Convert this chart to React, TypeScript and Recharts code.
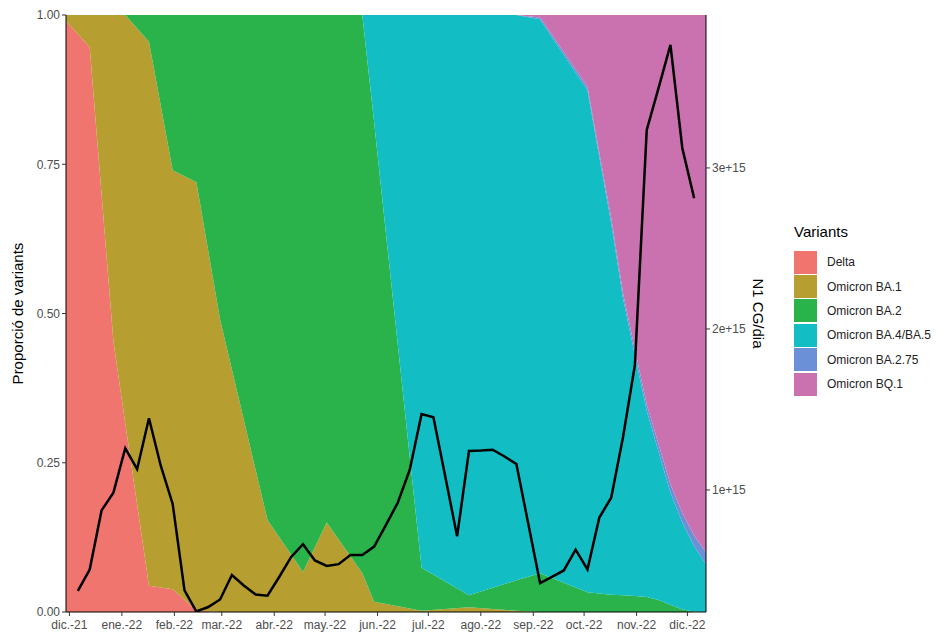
import { ComposedChart, Area, Line, XAxis, YAxis } from 'recharts';

const BASE = Date.parse('2021-12-01');
const dayOf = (iso: string) => (Date.parse(iso) - BASE) / 86400000;

// dates where the variant proportions change slope
const AREA_DATES = [
  '2021-11-29', '2021-12-13', '2021-12-27', '2022-01-03', '2022-01-17', '2022-01-31', '2022-02-14',
  '2022-02-28', '2022-03-28', '2022-04-18', '2022-05-02', '2022-05-23', '2022-05-30', '2022-06-27',
  '2022-07-25', '2022-08-22', '2022-09-05', '2022-10-03', '2022-10-10', '2022-10-17', '2022-10-24',
  '2022-10-31', '2022-11-07', '2022-11-14', '2022-11-21', '2022-11-28', '2022-12-05', '2022-12-12',
];
const DELTA = [0.99, 0.946, 0.453, 0.316, 0.044, 0.038, 0.003, 0, 0, 0, 0, 0, 0, 0, 0, 0, 0, 0, 0, 0, 0, 0, 0, 0, 0, 0, 0, 0];
const BA1 = [0.01, 0.054, 0.547, 0.684, 0.911, 0.702, 0.717, 0.49, 0.154, 0.067, 0.15, 0.065, 0.017, 0.002, 0.008, 0.002, 0, 0, 0, 0, 0, 0, 0, 0, 0, 0, 0, 0];
const BA2 = [0, 0, 0, 0, 0.045, 0.26, 0.28, 0.51, 0.846, 0.933, 0.85, 0.935, 0.803, 0.072, 0.02, 0.051, 0.065, 0.033, 0.031, 0.029, 0.028, 0.027, 0.025, 0.02, 0.012, 0.004, 0.001, 0];
const BA45 = [0, 0, 0, 0, 0, 0, 0, 0, 0, 0, 0, 0, 0.18, 0.926, 0.972, 0.947, 0.928, 0.841, 0.731, 0.623, 0.497, 0.403, 0.312, 0.248, 0.188, 0.146, 0.109, 0.08];
const BA275 = [0, 0, 0, 0, 0, 0, 0, 0, 0, 0, 0, 0, 0, 0, 0, 0, 0.003, 0.006, 0.007, 0.008, 0.009, 0.01, 0.011, 0.013, 0.014, 0.016, 0.018, 0.02];
const BQ1 = [0, 0, 0, 0, 0, 0, 0, 0, 0, 0, 0, 0, 0, 0, 0, 0, 0.004, 0.12, 0.231, 0.34, 0.466, 0.56, 0.652, 0.719, 0.786, 0.834, 0.872, 0.9];

// weekly N1 load, in units of 1e15 CG/day, starting Monday 6 Dec 2021
const N1_START = '2021-12-06';
const N1 = [
  0.373, 0.506, 0.873, 0.983, 1.259, 1.129, 1.445, 1.149, 0.913, 0.376,
  0.245, 0.273, 0.32, 0.472, 0.407, 0.351, 0.343, 0.461, 0.584, 0.663,
  0.562, 0.528, 0.539, 0.596, 0.596, 0.648, 0.783, 0.922, 1.124, 1.471,
  1.452, 1.083, 0.712, 1.242, 1.245, 1.25, 1.208, 1.161, 0.792, 0.422,
  0.46, 0.5, 0.629, 0.507, 0.829, 0.952, 1.329, 1.776, 3.236, 3.497,
  3.764, 3.124, 2.812,
];

const TICK_DATES = [
  '2021-12-01', '2022-01-01', '2022-02-01', '2022-03-01', '2022-04-01', '2022-05-01', '2022-06-01',
  '2022-07-01', '2022-08-01', '2022-09-01', '2022-10-01', '2022-11-01', '2022-12-01',
];
const TICK_LABELS = ['dic.-21', 'ene.-22', 'feb.-22', 'mar.-22', 'abr.-22', 'may.-22', 'jun.-22', 'jul.-22', 'ago.-22', 'sep.-22', 'oct.-22', 'nov.-22', 'dic.-22'];

const VARIANTS = [
  { key: 'delta', name: 'Delta', color: '#F0756F', values: DELTA },
  { key: 'ba1', name: 'Omicron BA.1', color: '#B69F30', values: BA1 },
  { key: 'ba2', name: 'Omicron BA.2', color: '#2BB34B', values: BA2 },
  { key: 'ba45', name: 'Omicron BA.4/BA.5', color: '#13BDC4', values: BA45 },
  { key: 'ba275', name: 'Omicron BA.2.75', color: '#6B90D8', values: BA275 },
  { key: 'bq1', name: 'Omicron BQ.1', color: '#CA71AF', values: BQ1 },
];

const areaData = AREA_DATES.map((d, i) => {
  const row: Record<string, number> = { day: dayOf(d) };
  VARIANTS.forEach((v) => { row[v.key] = v.values[i]; });
  return row;
});
const lineData = N1.map((v, i) => ({ day: dayOf(N1_START) + 7 * i, n1: v }));
const xTicks = TICK_DATES.map(dayOf);

const FONT = '"Liberation Sans", Arial, sans-serif';
const tickStyle = { fill: '#4D4D4D', fontSize: 12, fontFamily: FONT };

export default function App() {
  return (
    <div style={{ position: 'absolute', left: 0, top: 0, width: 944, height: 635, background: '#fff', fontFamily: FONT }}>
      <ComposedChart width={944} height={635} data={areaData} margin={{ top: 15, right: 183, bottom: 0, left: 20 }}>
        <XAxis
          dataKey="day"
          type="number"
          domain={[-2, 376]}
          allowDataOverflow
          ticks={xTicks}
          tickFormatter={(v: number) => TICK_LABELS[xTicks.indexOf(v)]}
          height={23}
          stroke="#000"
          tickLine={{ stroke: '#333' }}
          tickSize={4}
          tickMargin={4}
          tick={tickStyle}
        />
        <YAxis
          yAxisId="left"
          domain={[0, 1]}
          ticks={[0, 0.25, 0.5, 0.75, 1]}
          tickFormatter={(v: number) => v.toFixed(2)}
          width={46}
          stroke="#000"
          tickLine={{ stroke: '#333' }}
          tickSize={4}
          tick={tickStyle}
          label={{ value: 'Proporció de variants', angle: -90, position: 'insideLeft', offset: -2, style: { textAnchor: 'middle', fill: '#000', fontSize: 15, fontFamily: FONT } }}
        />
        <YAxis
          yAxisId="right"
          orientation="right"
          domain={[0.242, 3.95]}
          allowDataOverflow
          ticks={[1, 2, 3]}
          tickFormatter={(v: number) => `${v}e+15`}
          width={55}
          stroke="#000"
          tickLine={{ stroke: '#333' }}
          tickSize={4}
          tick={tickStyle}
          label={{ value: 'N1 CG/dia', angle: 90, position: 'insideRight', offset: 3, style: { textAnchor: 'middle', fill: '#000', fontSize: 15, fontFamily: FONT } }}
        />
        {VARIANTS.map((v) => (
          <Area
            key={v.key}
            yAxisId="left"
            type="linear"
            dataKey={v.key}
            stackId="1"
            stroke="none"
            fill={v.color}
            fillOpacity={1}
            isAnimationActive={false}
          />
        ))}
        <Line
          yAxisId="right"
          data={lineData}
          dataKey="n1"
          type="linear"
          stroke="#000"
          strokeWidth={2.5}
          dot={false}
          isAnimationActive={false}
        />
      </ComposedChart>
      <div style={{ position: 'absolute', left: 794, top: 222 }}>
        <div style={{ fontSize: 15, color: '#000', lineHeight: '20px', marginBottom: 8 }}>Variants</div>
        {VARIANTS.map((v) => (
          <div key={v.key} style={{ display: 'flex', alignItems: 'center', height: 24.4 }}>
            <div style={{ width: 23, height: 23, background: v.color, marginRight: 10 }} />
            <span style={{ fontSize: 12, color: '#222' }}>{v.name}</span>
          </div>
        ))}
      </div>
    </div>
  );
}
